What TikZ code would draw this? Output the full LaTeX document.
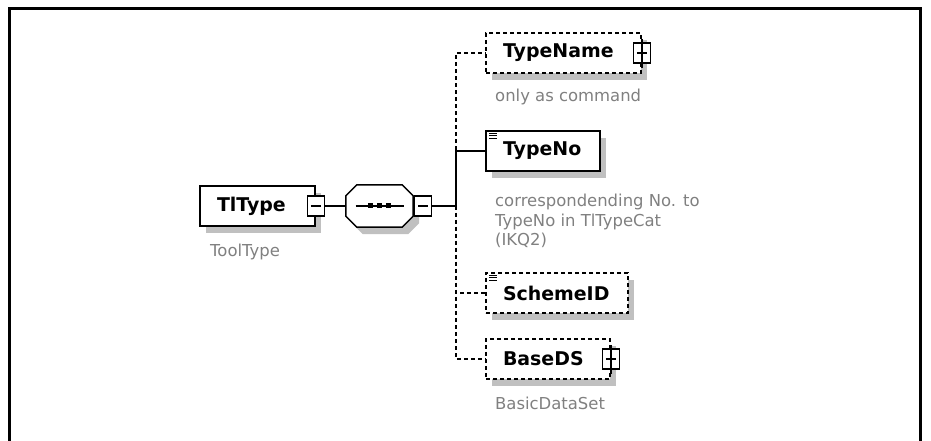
\documentclass[tikz,border=0pt]{standalone}
\usepackage{fontspec}
\setmainfont{DejaVu Sans}
\usetikzlibrary{shadows, positioning}
\definecolor{capgray}{RGB}{128,128,128}
\definecolor{shadegray}{RGB}{192,192,192}

\begin{document}
\begin{tikzpicture}[
    x=1bp, y=-1bp,
    shade/.style={drop shadow={shadow xshift=6bp, shadow yshift=-7bp, fill=shadegray, opacity=1}},
    element/.style={rectangle, draw=black, fill=white, line width=1.5bp, minimum height=40bp, inner xsep=17bp, inner ysep=0pt, text width=#1, align=left, font=\bfseries\fontsize{19}{22}\selectfont, shade},
    element/.default={80bp},
    optional/.style={element=#1, dash pattern=on 4bp off 3bp},
    optional/.default={80bp},
    btn/.style={rectangle, draw=black, fill=white, line width=1.2bp, minimum width=17bp, minimum height=20bp, inner sep=0pt},
    caption/.style={font=\fontsize{16.5}{19.5}\selectfont, text=capgray, inner sep=0pt, align=left},
    link/.style={line width=1.5bp},
    optlink/.style={link, dash pattern=on 4bp off 3bp}
]
\useasboundingbox (0,0) rectangle (931,441);

% --- frame ---
\draw[line width=3bp] (9.5,460) -- (9.5,8.5) -- (920.5,8.5) -- (920.5,460);

% --- root element ---
\node[element=81bp] (tltype) at (257.5,206) {TlType};
\node[btn] (tlmin) at (tltype.east) {};
\draw[link] ([xshift=-5bp] tlmin.center) -- ([xshift=5bp] tlmin.center);
\node[caption, anchor=base west] (tlcap) at (210,257) {ToolType};

% --- sequence ---
\node[rectangle, minimum width=67bp, minimum height=42bp, inner sep=0pt] (seq) at (379.5,206) {};
\draw[link, fill=white, shade] ([xshift=11bp] seq.north west) -- ([xshift=-11bp] seq.north east)
  -- ([yshift=-11bp] seq.north east) -- ([yshift=11bp] seq.south east)
  -- ([xshift=-11bp] seq.south east) -- ([xshift=11bp] seq.south west)
  -- ([yshift=11bp] seq.south west) -- ([yshift=-11bp] seq.north west) -- cycle;
\draw[link] ([xshift=-24bp] seq.center) -- ([xshift=24bp] seq.center);
\foreach \dx in {-9,0,9}
  \fill ([xshift=\dx bp] seq.center) +(-2.5,-2.5) rectangle +(2.5,2.5);
\node[btn, anchor=west] (seqmin) at ([xshift=1bp] seq.east) {};
\draw[link] ([xshift=-5bp] seqmin.center) -- ([xshift=5bp] seqmin.center);

\draw[link] (tlmin.east) -- (seq.west);
\coordinate (bus) at (456,206);
\draw[link] (seqmin.east) -- (bus);

% --- children ---
\node[optional=121bp] (tname) at (563.5,53) {TypeName};
\node[element=80bp] (tno) at (543,151) {TypeNo};
\node[optional=108bp] (scheme) at (557,293) {SchemeID};
\node[optional=90bp] (base) at (548,359) {BaseDS};

% expand buttons
\foreach \n in {tname, base} {
  \node[btn] (\n plus) at (\n.east) {};
  \draw[link] ([xshift=-5bp] \n plus.center) -- ([xshift=5bp] \n plus.center);
  \draw[link] ([yshift=14bp] \n plus.center) -- ([yshift=-15bp] \n plus.center);
}

% text content icons
\foreach \n in {tno, scheme}
  \foreach \d in {3,5.5,8}
    \draw[line width=0.8bp] ([xshift=4bp, yshift=-\d bp] \n.north west) -- ++(8,0);

% captions
\node[caption, anchor=base west] (tnamecap) at (495,102) {only as command};
\node[caption, anchor=north west] (tnocap) at (495,194) {correspondending No. to\\TypeNo in TlTypeCat\\(IKQ2)};
\node[caption, anchor=base west] (basecap) at (495,409) {BasicDataSet};

% --- connectors ---
\draw[link] (bus) |- (tno.west);
\draw[optlink] (bus) |- (tname.west);
\draw[optlink] (bus) |- (scheme.west);
\draw[optlink] (bus) |- (base.west);

\end{tikzpicture}
\end{document}
